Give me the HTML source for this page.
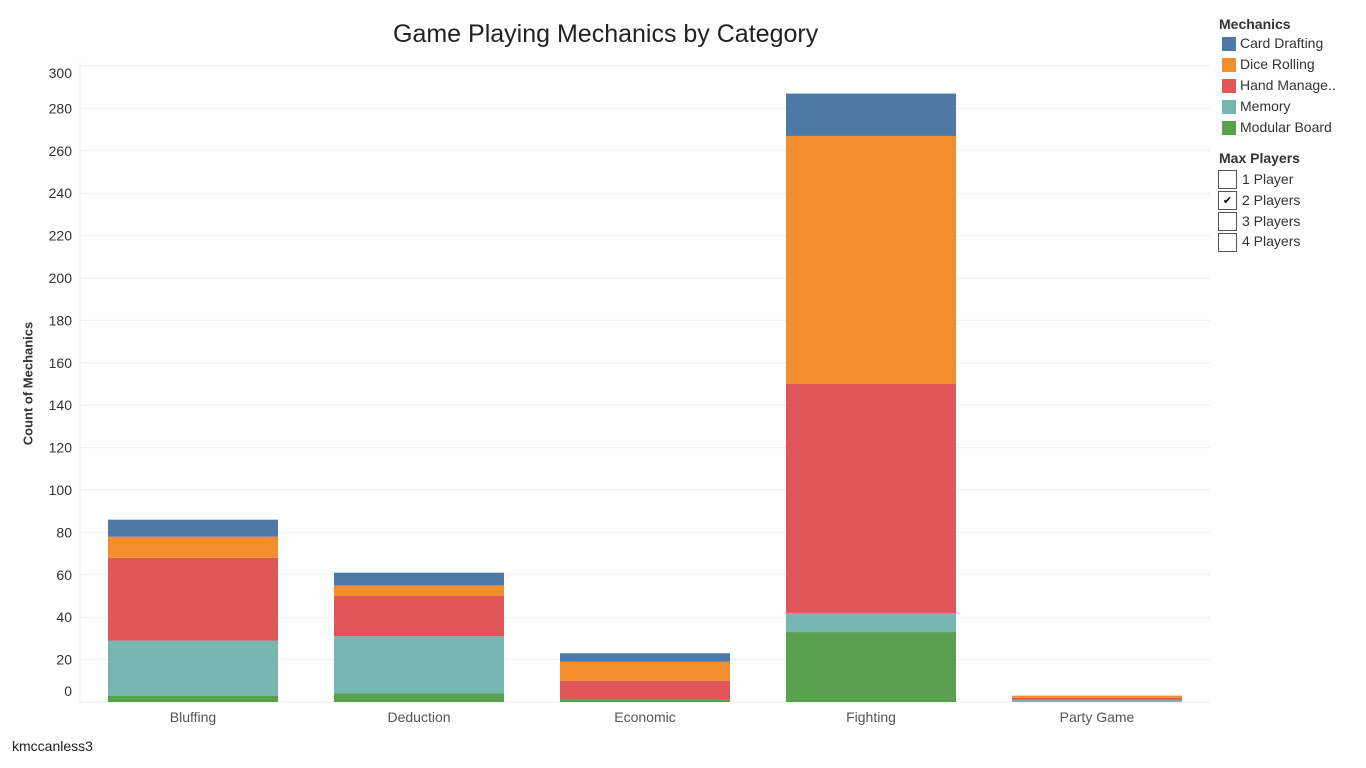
<!DOCTYPE html>
<html><head><meta charset="utf-8"><style>
body{margin:0;width:1366px;height:768px;background:#fff;font-family:"Liberation Sans",sans-serif;overflow:hidden;position:relative}
.t{position:absolute;white-space:nowrap}
.leg{position:absolute;left:1222px;font-size:14px;color:#333}
.sw{position:absolute;left:1222px;width:14px;height:14px}
.cb{position:absolute;left:1218px;width:19px;height:19px;border:1px solid #555;box-sizing:border-box;background:#fff;font-size:11px;text-align:center;line-height:18px}
</style></head><body>
<div class="t" style="left:393px;top:20px;font-size:25px;color:#222">Game Playing Mechanics by Category</div>
<div class="t" style="left:-34px;top:376px;font-size:13px;color:#333;transform:rotate(-90deg);font-weight:bold">Count of Mechanics</div>
<div class="t" style="left:12px;top:738px;font-size:14px;color:#222">kmccanless3</div>
<svg id="chart" width="1366" height="768" style="position:absolute;left:0;top:0"></svg>
<div class="t" style="left:1219px;top:16px;font-size:14px;font-weight:bold;color:#333">Mechanics</div>
<div id="leg"></div>
<div class="t" style="left:1219px;top:150px;font-size:14px;font-weight:bold;color:#333">Max Players</div>
<div class="cb" style="top:170px"></div><div class="leg" style="left:1242px;top:171px">1 Player</div>
<div class="cb" style="top:191px">✔</div><div class="leg" style="left:1242px;top:192px">2 Players</div>
<div class="cb" style="top:212px"></div><div class="leg" style="left:1242px;top:213px">3 Players</div>
<div class="cb" style="top:233px"></div><div class="leg" style="left:1242px;top:233px">4 Players</div>
<script>
const categories=["Bluffing","Deduction","Economic","Fighting","Party Game"];
const series=["Modular Board","Memory","Hand Manage..","Dice Rolling","Card Drafting"];
const colors=["#59a14f","#76b7b2","#e15759","#f28e2b","#4e79a7"];
const modular=[3,4,1,33,0];
const memory=[26,27,0,9,1];
const hand=[39,19,9,108,1];
const dice=[10,5,9,117,1];
const card=[8,6,4,20,0];
const values=[modular,memory,hand,dice,card];
const ticks=[0,20,40,60,80,100,120,140,160,180,200,220,240,260,280,300];
const NS="http://www.w3.org/2000/svg",svg=document.getElementById("chart");
const x0=80,x1=1210,base=702,ppu=2.12,bw=170;
const y=v=>base-v*ppu;
const xc=i=>x0+(x1-x0)/categories.length*(i+0.5);
function mk(t,a){const e=document.createElementNS(NS,t);for(const k in a)e.setAttribute(k,a[k]);svg.appendChild(e);return e;}
ticks.forEach(t=>{
 const yy=Math.max(y(t),66);
 const g=mk("line",{x1:x0,x2:x1,y1:yy,y2:yy,stroke:"#eee"});
 
 
 const ly=t===0?base-6:(t===300?y(t)+12:y(t)+5);
 const tx=mk("text",{x:72,y:ly,"text-anchor":"end","font-size":14,fill:"#333"});tx.textContent=t;
 
 
});
mk("line",{x1:x0,x2:x0,y1:62,y2:base,stroke:"#eee"});
categories.forEach((c,i)=>{
 let acc=0;
 values.forEach((s,j)=>{
  const v=s[i];if(v>0){
   const r=mk("rect",{x:xc(i)-bw/2,y:y(acc+v),width:bw,height:v*ppu,fill:colors[j]});
   
   
  }
  acc+=v;
 });
 const t=mk("text",{x:xc(i),y:722,"text-anchor":"middle","font-size":14,fill:"#555"});t.textContent=c;
 
 
});
const leg=document.getElementById("leg");
[4,3,2,1,0].forEach((j,k)=>{
 const s=document.createElement("div");s.className="sw";s.style.top=(37+k*21)+"px";s.style.background=colors[j];
 
 
 const l=document.createElement("div");l.className="leg";l.style.left="1240px";l.style.top=(35+k*21)+"px";l.textContent=series[j]==="Hand Manage.."?"Hand Manage..":series[j];
 
 
 leg.appendChild(s);leg.appendChild(l);
});
</script>
</body></html>
